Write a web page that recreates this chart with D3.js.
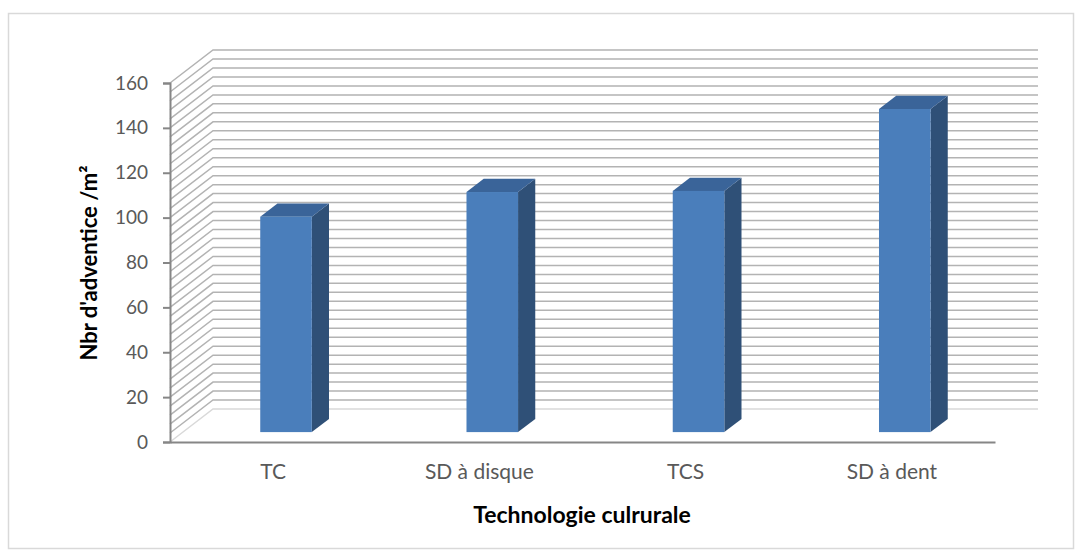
<!DOCTYPE html>
<html>
<head>
<meta charset="utf-8">
<script src="https://cdn.jsdelivr.net/npm/d3@7"></script>
<style>
  html, body { margin: 0; padding: 0; background: #ffffff; }
  svg { display: block; }
  text { font-family: Lato, "Open Sans", sans-serif; }
</style>
</head>
<body>
<svg id="chart" width="1082" height="556"></svg>
<script>
// Weed counts per tillage technique
const categories = ["TC", "SD à disque", "TCS", "SD à dent"];
const values = [96, 107, 107.5, 144];
const yTicks = [0, 20, 40, 60, 80, 100, 120, 140, 160];
const yTitle = "Nbr d'adventice /m²";
const xTitle = "Technologie culrurale";

const svg = d3.select("#chart");

// chart frame
svg.append("rect")
  .attr("x", 8.5).attr("y", 13.5)
  .attr("width", 1065).attr("height", 535)
  .attr("fill", "#fff").attr("stroke", "#d9d9d9").attr("stroke-width", 1.5);

// oblique 3-D projection: the floor depth is shifted right and up
const depthX = 43, depthY = -33;
const x = d3.scaleBand().domain(categories).range([170, 995]);
const y = d3.scaleLinear().domain([0, 160]).range([442, 83]);
const proj = (px, v, z) => [px + z * depthX, y(v) + z * depthY];

// gridlines at major/5 interval (every 4 units) on side wall and back wall
const gridVals = d3.range(0, 161, 4);
const grid = svg.append("g").attr("fill", "none");
gridVals.forEach(v => {
  const a = proj(170, v, 0), b = proj(170, v, 1), c = proj(1038 - depthX, v, 1);
  grid.append("path")
    .attr("d", d3.line()([a, b, c]))
    .attr("stroke", v === 0 ? "#d9d9d9" : "#b3b3b3")
    .attr("stroke-width", 1.5);
});

// columns
const barW = x.bandwidth() * 0.25;
const zFront = 0.3, zDepth = 0.4;
const bars = svg.append("g");
categories.forEach((cat, i) => {
  const v = values[i];
  const x0 = x(cat) + (x.bandwidth() - barW) / 2;
  const fl = proj(x0, 0, zFront), ft = proj(x0, v, zFront);
  const w = barW;
  const dx = zDepth * depthX, dy = zDepth * depthY;
  // side face
  bars.append("path")
    .attr("d", d3.line()([[ft[0] + w, ft[1]], [ft[0] + w + dx, ft[1] + dy],
                          [fl[0] + w + dx, fl[1] + dy], [fl[0] + w, fl[1]]]) + "Z")
    .attr("fill", "#2f5077");
  // top face
  bars.append("path")
    .attr("d", d3.line()([[ft[0], ft[1]], [ft[0] + dx, ft[1] + dy],
                          [ft[0] + w + dx, ft[1] + dy], [ft[0] + w, ft[1]]]) + "Z")
    .attr("fill", "#3a6499");
  // front face
  bars.append("rect")
    .attr("x", ft[0]).attr("y", ft[1])
    .attr("width", w).attr("height", fl[1] - ft[1])
    .attr("fill", "#4a7ebb");
});

// value axis
const yAxis = svg.append("g")
  .attr("transform", "translate(170,0)")
  .call(d3.axisLeft(y).tickValues(yTicks).tickSize(7).tickPadding(15));
yAxis.select(".domain").attr("stroke", "#868686").attr("stroke-width", 2);
yAxis.selectAll(".tick line").attr("stroke", "#868686").attr("stroke-width", 2);
yAxis.selectAll(".tick text")
  .attr("fill", "#595959").attr("font-size", 19)
  .style("font-family", "Lato, 'Open Sans', sans-serif");

// category axis along the front edge of the floor
const xAxis = svg.append("g")
  .attr("transform", "translate(0,442)")
  .call(d3.axisBottom(x).tickSize(0).tickPadding(22));
xAxis.select(".domain").attr("stroke", "#868686").attr("stroke-width", 2);
xAxis.selectAll(".tick text")
  .attr("fill", "#595959").attr("font-size", 21)
  .style("font-family", "Lato, 'Open Sans', sans-serif");

// axis titles
svg.append("text")
  .attr("x", 582).attr("y", 523)
  .attr("text-anchor", "middle")
  .attr("font-size", 23).attr("font-weight", "bold").attr("fill", "#000")
  .text(xTitle);

svg.append("text")
  .attr("transform", "translate(97,263) rotate(-90)")
  .attr("text-anchor", "middle")
  .attr("font-size", 22).attr("font-weight", "bold").attr("fill", "#000")
  .text(yTitle);
</script>
</body>
</html>
